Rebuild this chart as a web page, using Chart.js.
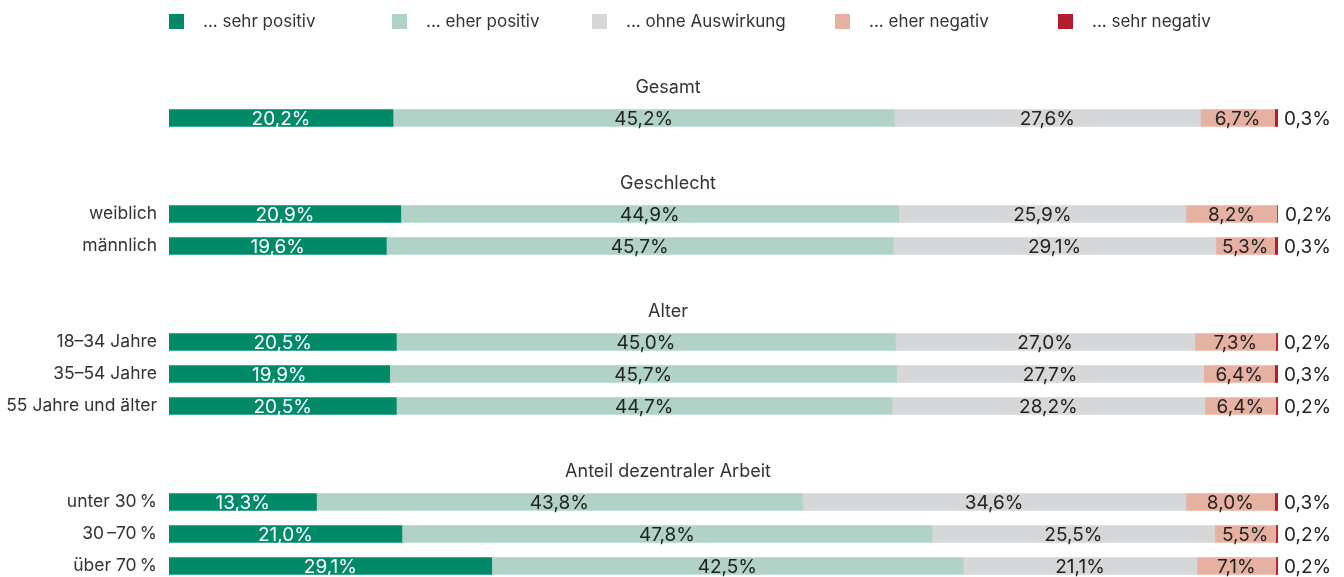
<!DOCTYPE html>
<html lang="de">
<head>
<meta charset="utf-8">
<title>Auswirkungen</title>
<script src="https://cdn.jsdelivr.net/npm/chart.js@4/dist/chart.umd.min.js"></script>
<style>
  html, body { margin: 0; padding: 0; background: #fff; overflow: hidden; }
  body { width: 1344px; height: 577px; position: relative; font-family: Inter, "Noto Sans", sans-serif; }
  #myChart { position: absolute; left: 0; top: 0; }
  .legend { position: absolute; left: 169px; top: 12px; display: flex; font-size: 17px; color: #333; }
  .legend-item { display: flex; align-items: center; height: 18px; white-space: nowrap; }
  .legend-item span.box { width: 15px; height: 15px; margin-right: 19px; }
</style>
</head>
<body>
<canvas id="myChart" width="1344" height="590"></canvas>
<div class="legend" id="legend"></div>

<script>
// Data
var seriesNames = ['... sehr positiv', '... eher positiv', '... ohne Auswirkung', '... eher negativ', '... sehr negativ'];
var groupTitles = ['Gesamt', 'Geschlecht', 'Alter', 'Anteil dezentraler Arbeit'];
var groupRows = [
  [''],
  ['weiblich', 'männlich'],
  ['18–34 Jahre', '35–54 Jahre', '55 Jahre und älter'],
  ['unter 30\u2009%', '30\u2009–70\u2009%', 'über 70\u2009%']
];
var sehrPositiv    = [20.2, 20.9, 19.6, 20.5, 19.9, 20.5, 13.3, 21.0, 29.1];
var eherPositiv    = [45.2, 44.9, 45.7, 45.0, 45.7, 44.7, 43.8, 47.8, 42.5];
var ohneAuswirkung = [27.6, 25.9, 29.1, 27.0, 27.7, 28.2, 34.6, 25.5, 21.1];
var eherNegativ    = [6.7, 8.2, 5.3, 7.3, 6.4, 6.4, 8.0, 5.5, 7.1];
var sehrNegativ    = [0.3, 0.2, 0.3, 0.2, 0.3, 0.2, 0.3, 0.2, 0.2];

var colors = ['#008a6a', '#b1d2c7', '#d6d7d9', '#e7b1a2', '#b31e2b'];
var legendWidths = [223, 200, 243, 223, 160];

// Build rows: header slot + data slots, blank slot between groups
var labels = [];
var headers = {};
var rowIndex = [];
var n = 0;
groupTitles.forEach(function(title, g) {
  if (g > 0) { labels.push(''); rowIndex.push(null); }
  headers[labels.length] = title;
  labels.push('');
  rowIndex.push(null);
  groupRows[g].forEach(function(r) {
    labels.push(r);
    rowIndex.push(n);
    n++;
  });
});

function spread(values) {
  return rowIndex.map(function(i) { return i === null ? null : values[i]; });
}

var allSeries = [sehrPositiv, eherPositiv, ohneAuswirkung, eherNegativ, sehrNegativ];
var datasets = allSeries.map(function(values, i) {
  return {
    label: seriesNames[i],
    data: spread(values),
    backgroundColor: colors[i],
    borderWidth: 0,
    barThickness: 17
  };
});

// HTML legend
var legend = document.getElementById('legend');
seriesNames.forEach(function(name, i) {
  var item = document.createElement('div');
  item.className = 'legend-item';
  item.style.width = legendWidths[i] + 'px';
  item.innerHTML = '<span class="box" style="background:' + colors[i] + '"></span>' + name;
  legend.appendChild(item);
});

function fmt(v) {
  return v.toFixed(1).replace('.', ',') + '%';
}

// Value labels and group headers
var labelPlugin = {
  id: 'barLabels',
  afterDatasetsDraw: function(chart) {
    var ctx = chart.ctx;
    ctx.save();
    ctx.font = '19px Inter, "Noto Sans", sans-serif';
    ctx.textBaseline = 'middle';
    chart.data.datasets.forEach(function(ds, d) {
      var meta = chart.getDatasetMeta(d);
      meta.data.forEach(function(bar, i) {
        var v = ds.data[i];
        if (v === null) return;
        if (d === 4) {
          ctx.textAlign = 'left';
          ctx.fillStyle = '#222';
          ctx.fillText(fmt(v), bar.x + 6, bar.y + 1);
        } else {
          ctx.textAlign = 'center';
          ctx.fillStyle = d === 0 ? '#fff' : '#222';
          ctx.fillText(fmt(v), (bar.x + bar.base) / 2, bar.y + 1);
        }
      });
    });
    var yScale = chart.scales.y;
    ctx.font = '18px Inter, "Noto Sans", sans-serif';
    ctx.fillStyle = '#333';
    ctx.textAlign = 'center';
    Object.keys(headers).forEach(function(idx) {
      ctx.fillText(headers[idx], chart.width / 2 - 4, yScale.getPixelForValue(+idx) + 2);
    });
    ctx.restore();
  }
};

var ctx = document.getElementById('myChart').getContext('2d');
var myChart = new Chart(ctx, {
  type: 'bar',
  data: {
    labels: labels,
    datasets: datasets
  },
  options: {
    indexAxis: 'y',
    responsive: false,
    animation: false,
    layout: {
      padding: { top: 70, right: 66, bottom: 8, left: 0 }
    },
    plugins: {
      legend: { display: false },
      tooltip: { enabled: false }
    },
    scales: {
      x: {
        stacked: true,
        min: 0,
        max: 100,
        display: false
      },
      y: {
        stacked: true,
        grid: { display: false, drawTicks: false },
        border: { display: false },
        ticks: {
          padding: 12,
          color: '#333',
          font: { family: 'Inter, "Noto Sans", sans-serif', size: 17.5 }
        },
        afterFit: function(scale) {
          scale.width = 169;
          scale.paddingTop = 0;
          scale.paddingBottom = 0;
        }
      }
    }
  },
  plugins: [labelPlugin]
});
</script>
</body>
</html>
